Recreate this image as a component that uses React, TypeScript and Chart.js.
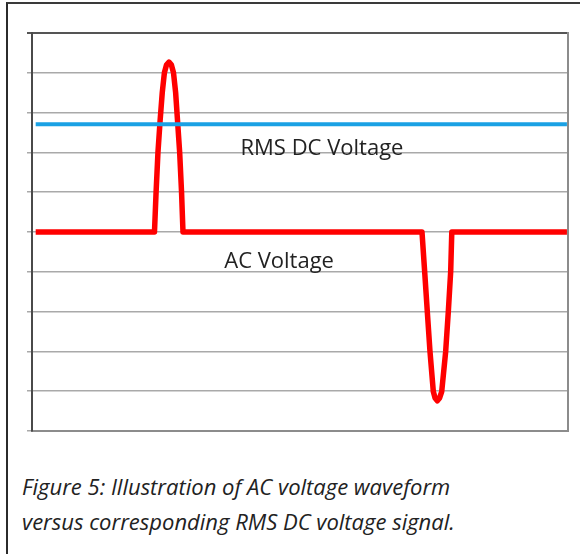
import { useEffect, useRef } from "react";
import { Chart, registerables } from "chart.js";

Chart.register(...registerables);

// AC voltage waveform (x in arbitrary time units, y in arbitrary voltage units)
const acX = [0.69, 22.85, 23.15, 23.5, 23.9, 24.3, 24.7, 25.1, 25.56, 26.0, 26.4, 26.8, 27.15, 27.55, 27.9, 28.17, 72.76, 73.26, 73.75, 74.25, 74.87, 75.2, 75.62, 76.05, 76.44, 77.18, 77.67, 78.11, 78.32, 99.8];
const acY = [5, 5, 6.0, 7.0, 7.8, 8.5, 9.0, 9.2, 9.27, 9.2, 9.0, 8.5, 7.8, 7.0, 6.0, 5, 5, 4.0, 3.0, 2.0, 0.99, 0.83, 0.76, 0.83, 0.99, 2.0, 3.0, 4.0, 5, 5];

// RMS DC voltage level
const rmsX = [0.69, 99.8];
const rmsY = [7.71, 7.71];

// In-chart labels
const labelTexts = ["RMS DC Voltage", "AC Voltage"];
const labelX = [54.1, 46.1];
const labelY = [7.09, 4.25];

const captionLines = [
  "Figure 5: Illustration of AC voltage waveform",
  "versus corresponding RMS DC voltage signal.",
];

const labelPlugin = {
  id: "inlineLabels",
  afterDatasetsDraw(chart: any) {
    const { ctx, scales } = chart;
    ctx.save();
    ctx.font = '22px "Open Sans", Lato, sans-serif';
    ctx.fillStyle = "#222222";
    ctx.textAlign = "center";
    ctx.textBaseline = "middle";
    labelTexts.forEach((t, i) => {
      ctx.fillText(t, scales.x.getPixelForValue(labelX[i]), scales.y.getPixelForValue(labelY[i]));
    });
    ctx.restore();
  },
};

export default function App() {
  const ref = useRef<HTMLCanvasElement | null>(null);

  useEffect(() => {
    if (!ref.current) return;
    const chart = new Chart(ref.current, {
      type: "line",
      data: {
        datasets: [
          {
            label: "RMS DC Voltage",
            data: rmsX.map((x, i) => ({ x, y: rmsY[i] })),
            borderColor: "#1aa1e4",
            borderWidth: 4,
            pointRadius: 0,
            fill: false,
          },
          {
            label: "AC Voltage",
            data: acX.map((x, i) => ({ x, y: acY[i] })),
            borderColor: "#ff0000",
            borderWidth: 5.5,
            pointRadius: 0,
            fill: false,
            tension: 0,
            borderJoinStyle: "round",
          },
        ],
      },
      options: {
        animation: false,
        responsive: true,
        maintainAspectRatio: false,
        layout: { padding: { left: 27, top: 33, right: 12, bottom: 29 } },
        plugins: { legend: { display: false }, tooltip: { enabled: false }, title: { display: false } },
        scales: {
          x: {
            type: "linear",
            min: 0,
            max: 100,
            ticks: { display: false },
            grid: { display: false, drawTicks: false },
            border: { display: true, color: "#8c8c8c", width: 2 },
          },
          y: {
            min: 0,
            max: 10,
            ticks: { display: false, stepSize: 1 },
            grid: {
              color: (c: any) => (c.tick && c.tick.value === 10 ? "#555555" : "#a9a9a9"),
              lineWidth: (c: any) => (c.tick && c.tick.value === 10 ? 2 : 1.5),
              drawTicks: true,
              tickLength: 5,
            },
            border: { display: true, color: "#4a4a4a", width: 2 },
          },
          yr: {
            position: "right",
            min: 0,
            max: 10,
            ticks: { display: false },
            grid: { display: false, drawTicks: false },
            border: { display: true, color: "#8c8c8c", width: 2 },
          },
        },
      },
      plugins: [labelPlugin],
    });
    return () => chart.destroy();
  }, []);

  return (
    <div style={{ position: "fixed", left: 0, top: 0, width: 580, height: 554, background: "#fff", overflow: "hidden" }}>
      <div
        style={{
          position: "absolute",
          left: 6,
          top: 2,
          width: 580,
          height: 560,
          borderLeft: "2px solid #2b2b2b",
          borderTop: "2px solid #3a3a3a",
        }}
      />
      <div style={{ position: "absolute", left: 0, top: 0, width: 580, height: 460 }}>
        <canvas ref={ref} />
      </div>
      <div
        style={{
          position: "absolute",
          left: 22,
          top: 469,
          fontFamily: '"Open Sans", Lato, sans-serif',
          fontStyle: "italic",
          fontSize: 22,
          lineHeight: "35px",
          color: "#222222",
          whiteSpace: "nowrap",
        }}
      >
        {captionLines.map((l, i) => (
          <div key={i}>{l}</div>
        ))}
      </div>
    </div>
  );
}
